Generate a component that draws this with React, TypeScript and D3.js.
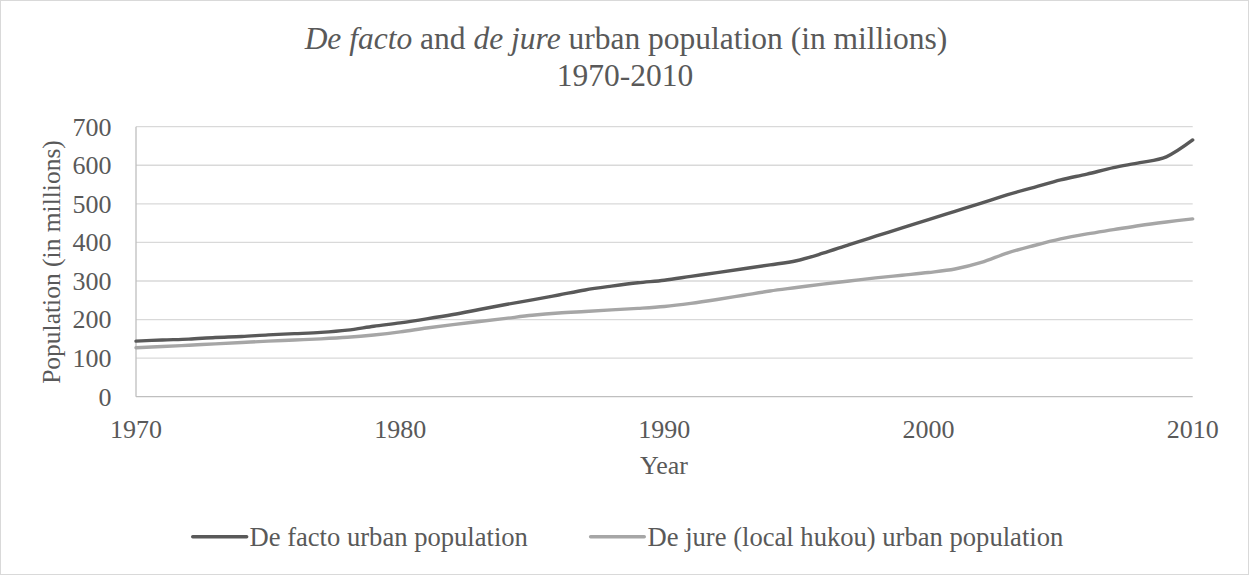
import React from "react";
import * as d3 from "d3";

// Urban population of China, in millions, 1970-2010
const years: number[] = d3.range(1970, 2011);

const deFacto: number[] = [
  144.2, 147.1, 149.4, 153.5, 156.0, 160.3, 163.4, 166.7, 172.5, 182.5,
  191.4, 201.7, 213.0, 226.0, 239.0, 250.9, 263.7, 276.7, 286.6, 295.4,
  302.0, 312.0, 321.8, 331.7, 341.7, 352.5, 372.0, 394.5, 416.1, 437.5,
  459.1, 480.6, 502.1, 523.8, 542.8, 562.1, 577.1, 593.8, 606.7, 621.9,
  665.6,
];

const deJure: number[] = [
  127, 130, 133.5, 137, 140.5, 144, 147, 150, 154, 160,
  168, 178, 187, 195, 203, 211, 217, 221, 225, 229,
  234, 242, 252, 263, 274, 283, 292, 300, 308, 315,
  322, 331, 348, 373, 392, 409, 422, 433, 444, 453,
  461,
];

const yTicks: number[] = [0, 100, 200, 300, 400, 500, 600, 700];
const xTicks: number[] = [1970, 1980, 1990, 2000, 2010];

const seriesNames: string[] = [
  "De facto urban population",
  "De jure (local hukou) urban population",
];
const seriesColors: string[] = ["#595959", "#a6a6a6"];

const W = 1249;
const H = 575;
const FONT = "'Liberation Serif', 'Times New Roman', serif";
const TEXT = "#595959";

export default function App() {
  const x = d3.scaleLinear().domain([1970, 2010]).range([136, 1192.7]);
  const y = d3.scaleLinear().domain([0, 700]).range([396.7, 126.7]);

  const line = d3
    .line<[number, number]>()
    .x((d) => x(d[0]))
    .y((d) => y(d[1]))
    .curve(d3.curveCardinal.tension(0));

  const series = [deFacto, deJure].map((vals) =>
    years.map((yr, i) => [yr, vals[i]] as [number, number])
  );

  const legend = [
    { x1: 192.7, x2: 246.7, tx: 249.5 },
    { x1: 590.6, x2: 644.3, tx: 647.5 },
  ];

  return (
    <svg
      width={W}
      height={H}
      style={{ position: "absolute", left: 0, top: 0, background: "#fff" }}
      fontFamily={FONT}
    >
      <rect x={0.5} y={0.5} width={W - 1} height={H - 1} fill="#fff" stroke="#d9d9d9" />

      {/* title */}
      <text x={626} y={48.5} textAnchor="middle" fontSize={31.5} fill={TEXT}>
        <tspan fontStyle="italic">De facto</tspan>
        <tspan> and </tspan>
        <tspan fontStyle="italic">de jure</tspan>
        <tspan> urban population (in millions)</tspan>
      </text>
      <text x={625} y={85.5} textAnchor="middle" fontSize={31.5} fill={TEXT}>
        1970-2010
      </text>

      {/* horizontal gridlines */}
      {yTicks.map((t) => (
        <line
          key={t}
          x1={x(1970)}
          x2={x(2010)}
          y1={y(t)}
          y2={y(t)}
          stroke={t === 0 ? "#bfbfbf" : "#d9d9d9"}
          strokeWidth={1.3}
        />
      ))}
      <line x1={x(1970)} x2={x(1970)} y1={y(700)} y2={y(0)} stroke="#bfbfbf" strokeWidth={1.3} />

      {/* y tick labels */}
      {yTicks.map((t) => (
        <text
          key={t}
          x={111.5}
          y={y(t)}
          dy="0.34em"
          textAnchor="end"
          fontSize={26}
          fill={TEXT}
        >
          {t}
        </text>
      ))}

      {/* x tick labels */}
      {xTicks.map((t) => (
        <text key={t} x={x(t)} y={437.7} textAnchor="middle" fontSize={26} fill={TEXT}>
          {t}
        </text>
      ))}

      {/* axis titles */}
      <text x={664} y={474} textAnchor="middle" fontSize={26} fill={TEXT}>
        Year
      </text>
      <text
        transform={`translate(60,262) rotate(-90)`}
        textAnchor="middle"
        fontSize={25.5}
        fill={TEXT}
      >
        Population (in millions)
      </text>

      {/* series lines */}
      {series.map((pts, i) => (
        <path
          key={i}
          d={line(pts) || ""}
          fill="none"
          stroke={seriesColors[i]}
          strokeWidth={3.4}
          strokeLinecap="round"
          strokeLinejoin="round"
        />
      ))}

      {/* legend */}
      {legend.map((l, i) => (
        <g key={i}>
          <line
            x1={l.x1}
            x2={l.x2}
            y1={536.7}
            y2={536.7}
            stroke={seriesColors[i]}
            strokeWidth={3.4}
            strokeLinecap="round"
          />
          <text x={l.tx} y={545.7} fontSize={26.6} fill={TEXT}>
            {seriesNames[i]}
          </text>
        </g>
      ))}
    </svg>
  );
}
